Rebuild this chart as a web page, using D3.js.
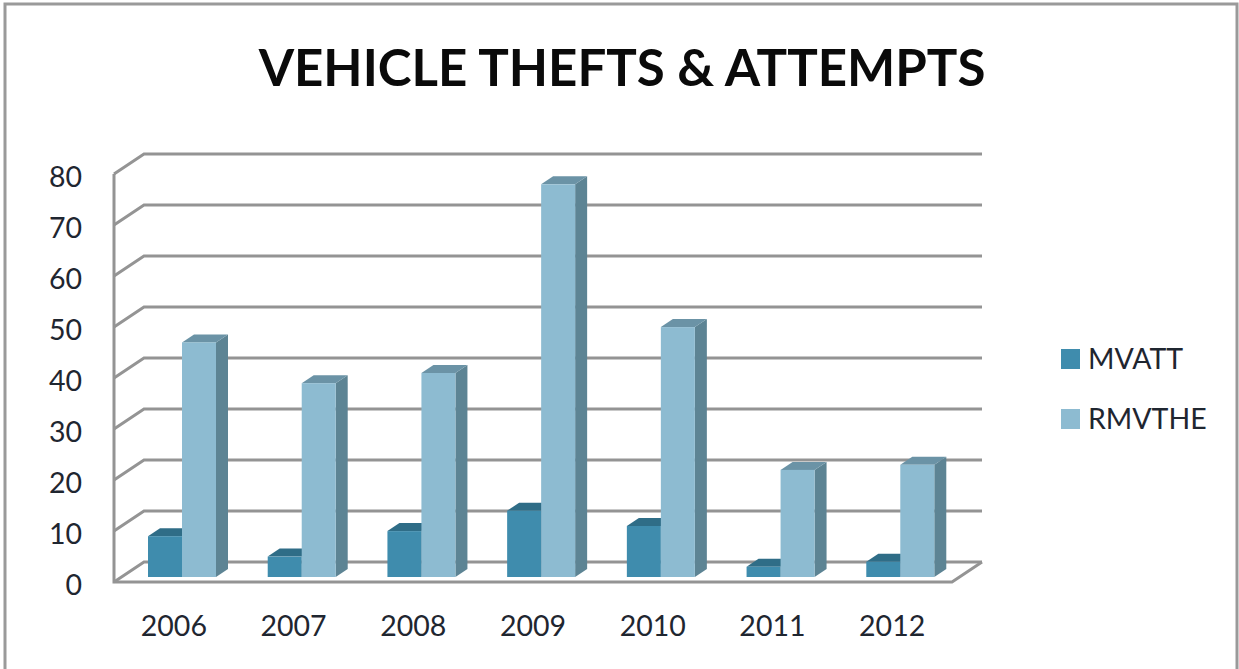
<!DOCTYPE html>
<html>
<head>
<meta charset="utf-8">
<script src="https://cdn.jsdelivr.net/npm/d3@7"></script>
<style>
  html, body { margin: 0; padding: 0; background: #fff; overflow: hidden; }
  svg { display: block; }
  text { font-family: Lato, "Open Sans", sans-serif; fill: #1f2630; }
</style>
</head>
<body>
<svg id="chart" width="1239" height="669"></svg>
<script>
const titleText = "VEHICLE THEFTS & ATTEMPTS";
const years = ["2006", "2007", "2008", "2009", "2010", "2011", "2012"];
const seriesNames = ["MVATT", "RMVTHE"];
const mvatt = [8, 4, 9, 13, 10, 2, 3];
const rmvthe = [46, 38, 40, 77, 49, 21, 22];
const yTicks = [0, 10, 20, 30, 40, 50, 60, 70, 80];

const frontColor = { MVATT: "#3f8cad", RMVTHE: "#8dbbd1" };
const topColor = { MVATT: "#2f6d87", RMVTHE: "#6b93a6" };
const sideColor = { MVATT: "#2a6078", RMVTHE: "#5d8494" };

const svg = d3.select("#chart");
const width = 1239, height = 669;

// Box projection: the back wall sits up and to the right of the front plane.
const depthX = 30, depthY = -20;
const barDepthX = 12, barDepthY = -8;
const barLift = -5;

const x = d3.scaleBand().domain(years).range([114, 952]);
const xSeries = d3.scaleBand().domain(seriesNames).range([34, 102]);
const y = d3.scaleLinear().domain([0, 80]).range([582, 174]);

// Outer frame; its lower edge runs off the bottom of the page
svg.append("rect")
  .attr("x", 5).attr("y", 4)
  .attr("width", width - 7).attr("height", height + 6)
  .attr("fill", "#fff").attr("stroke", "#9a9a9a").attr("stroke-width", 3);

svg.append("text")
  .attr("x", 622).attr("y", 86)
  .attr("text-anchor", "middle")
  .attr("font-size", 51).attr("font-weight", 700)
  .style("fill", "#0a0a0a")
  .text(titleText);

const gridColor = "#949494";
const grid = svg.append("g")
  .attr("fill", "none").attr("stroke", gridColor).attr("stroke-width", 3);

// Back wall rules running on from the diagonal side-wall rules
grid.selectAll("path.rule").data(yTicks).join("path")
  .attr("class", "rule")
  .attr("d", d => {
    const p = d3.path();
    p.moveTo(x.range()[0], y(d));
    p.lineTo(x.range()[0] + depthX, y(d) + depthY);
    p.lineTo(x.range()[1] + depthX, y(d) + depthY);
    return p.toString();
  });

// Floor edges and the front of the value axis
const floor = d3.path();
floor.moveTo(x.range()[0], y(80));
floor.lineTo(x.range()[0], y(0));
floor.lineTo(x.range()[1], y(0));
floor.lineTo(x.range()[1] + depthX, y(0) + depthY);
grid.append("path").attr("d", floor.toString());

// Value axis labels
const yAxis = d3.axisLeft(y).tickValues(yTicks).tickSize(0).tickPadding(0);
const yAxisG = svg.append("g")
  .attr("transform", "translate(82,0)")
  .call(yAxis);
yAxisG.select(".domain").remove();
yAxisG.selectAll("text")
  .attr("font-size", 28.5)
  .attr("dy", "0.43em");

// Category labels
const xAxis = d3.axisBottom(x).tickSize(0).tickPadding(0);
const xAxisG = svg.append("g")
  .attr("transform", "translate(0,616)")
  .call(xAxis);
xAxisG.select(".domain").remove();
xAxisG.selectAll("text")
  .attr("font-size", 28.5)
  .attr("dy", "0.71em");

// 3D bars: the darker series first, so the lighter one overlaps its side face
const rows = [];
seriesNames.forEach((name, s) => {
  const values = s === 0 ? mvatt : rmvthe;
  years.forEach((year, i) => rows.push({ name, year, value: values[i] }));
});

const bars = svg.append("g").selectAll("g").data(rows).join("g");

const poly = pts => d3.line()(pts) + "Z";
const corners = d => {
  const x0 = x(d.year) + xSeries(d.name);
  const x1 = x0 + xSeries.bandwidth();
  const yTop = y(d.value) + barLift;
  const yBase = y(0) + barLift;
  return { x0, x1, yTop, yBase };
};

bars.append("path")
  .attr("fill", d => sideColor[d.name])
  .attr("d", d => {
    const c = corners(d);
    return poly([[c.x1, c.yTop], [c.x1 + barDepthX, c.yTop + barDepthY],
                 [c.x1 + barDepthX, c.yBase + barDepthY], [c.x1, c.yBase]]);
  });

bars.append("path")
  .attr("fill", d => topColor[d.name])
  .attr("d", d => {
    const c = corners(d);
    return poly([[c.x0, c.yTop], [c.x0 + barDepthX, c.yTop + barDepthY],
                 [c.x1 + barDepthX, c.yTop + barDepthY], [c.x1, c.yTop]]);
  });

bars.append("rect")
  .attr("fill", d => frontColor[d.name])
  .attr("x", d => corners(d).x0)
  .attr("y", d => corners(d).yTop)
  .attr("width", xSeries.bandwidth())
  .attr("height", d => corners(d).yBase - corners(d).yTop);

// Legend
const legendY = d3.scalePoint().domain(seriesNames).range([359, 419]);
const legend = svg.append("g").selectAll("g").data(seriesNames).join("g")
  .attr("transform", d => `translate(1061,${legendY(d)})`);
legend.append("rect")
  .attr("y", -10).attr("width", 19).attr("height", 20)
  .attr("fill", d => frontColor[d]);
legend.append("text")
  .attr("x", 27).attr("y", 10)
  .attr("font-size", 28.5)
  .text(d => d);
</script>
</body>
</html>
